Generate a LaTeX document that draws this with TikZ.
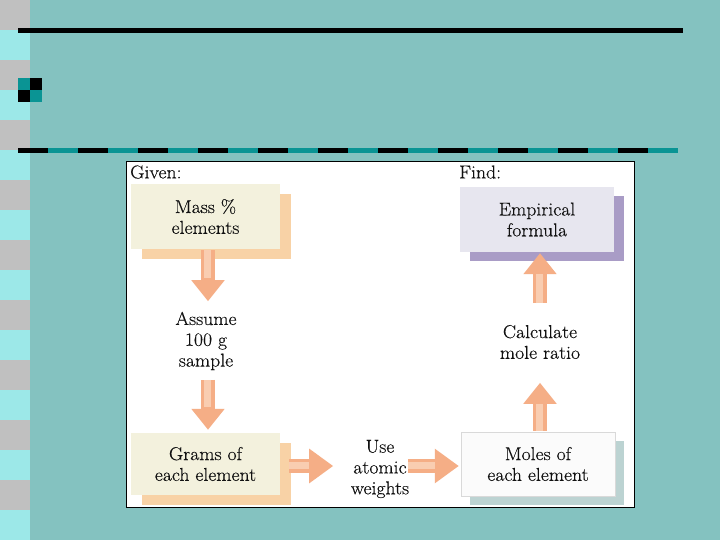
\documentclass[tikz,border=0pt]{standalone}
\usepackage{fontspec}
\setmainfont{Latin Modern Roman}[FakeStretch=1.06,FakeBold=0.35]
\usetikzlibrary{calc,shadows,arrows.meta}
\definecolor{bgteal}{HTML}{84C2C0}
\definecolor{darkteal}{HTML}{0A9494}
\definecolor{stripgray}{HTML}{C0C0C0}
\definecolor{stripcyan}{HTML}{9CE8E8}
\definecolor{cream}{HTML}{F3F1DD}
\definecolor{orangeshadow}{HTML}{F8D2A6}
\definecolor{lav}{HTML}{E7E6EF}
\definecolor{purp}{HTML}{A99CC6}
\definecolor{moleface}{HTML}{FBFBFB}
\definecolor{moleshadow}{HTML}{BCD3D2}
\definecolor{arrowc}{HTML}{F5AE86}
\definecolor{arrowlight}{HTML}{F9CDB1}
\definecolor{txt}{HTML}{111111}
\begin{document}
\begin{tikzpicture}[x=1pt,y=-1pt,
  lbl/.style={inner sep=0pt, align=center, text=txt, font=\fontsize{18.6}{20.8}\selectfont},
  box/.style={lbl, rectangle, minimum width=149pt, minimum height=65pt},
  blockv/.style={arrowc, line width=14pt, -{Triangle[width=32pt,length=21pt]}},
  blockh/.style={arrowc, line width=14pt, -{Triangle[width=33pt,length=24pt]}},
  hl/.style={arrowlight, line width=7pt}
]
\useasboundingbox (0,0) rectangle (720,540);
\fill[bgteal] (0,0) rectangle (720,540);
% left strip
\foreach \i in {0,...,8} {
  \fill[stripgray] (0,60*\i) rectangle (30,60*\i+30);
  \fill[stripcyan] (0,60*\i+30) rectangle (30,60*\i+60);
}
% top line
\fill[black] (18,28.5) rectangle (683,33);
% bullet
\fill[darkteal] (18,78) rectangle (30,90);
\fill[black] (30,78) rectangle (42,90);
\fill[black] (18,90) rectangle (30,102);
\fill[darkteal] (30,90) rectangle (42,102);
% dashed line
\foreach \k in {0,...,10} {
  \fill[black] (18+60*\k,148) rectangle (48+60*\k,153);
  \fill[darkteal] (48+60*\k,148) rectangle (78+60*\k,153);
}
% panel
\draw[fill=white, line width=0.8pt] (126,161) rectangle (634,507);
\node[lbl, anchor=west] (given) at (130,172) {Given:};
\node[lbl, anchor=west] (find) at (459,172) {Find:};
% boxes
\node[box, fill=cream, general shadow={fill=orangeshadow, shadow xshift=11pt, shadow yshift=-10pt}] (mass) at (205.5,216.5) {Mass \%\\elements};
\node[box, minimum width=154pt, fill=lav, general shadow={fill=purp, shadow xshift=10pt, shadow yshift=-9pt}] (emp) at (537,219.5) {Empirical\\formula};
\node[box, minimum height=62pt, fill=cream, general shadow={fill=orangeshadow, shadow xshift=11pt, shadow yshift=-10pt}] (grams) at (205.5,464) {Grams of\\each element};
\node[box, minimum width=154pt, minimum height=64pt, fill=moleface, draw=black!15, general shadow={fill=moleshadow, shadow xshift=9pt, shadow yshift=-9pt}] (moles) at (538,464) {Moles of\\each element};
% middle labels
\node[lbl] (assume) at (206,341) {Assume\\100 g\\sample};
\node[lbl] (calc) at (540,342) {Calculate\\mole ratio};
\node[lbl] (use) at (380,469) {Use\\atomic\\weights};
% arrows
\draw[blockv] ($(mass.south)+(2.5,1)$) -- ($(mass.south)+(2.5,52)$);
\draw[hl] ($(mass.south)+(1.5,1)$) -- ($(mass.south)+(1.5,29)$);
\draw[blockv] ($(grams.north)+(2.5,-53)$) -- ($(grams.north)+(2.5,-3)$);
\draw[hl] ($(grams.north)+(1.5,-53)$) -- ($(grams.north)+(1.5,-26)$);
\draw[blockh] ($(grams.east)+(9,2)$) -- ($(grams.east)+(53,2)$);
\draw[hl] ($(grams.east)+(9,1)$) -- ($(grams.east)+(29,1)$);
\draw[blockh] ($(moles.west)+(-53,2)$) -- ($(moles.west)+(-2,2)$);
\draw[hl] ($(moles.west)+(-53,1)$) -- ($(moles.west)+(-26,1)$);
\draw[blockv] ($(emp.south)+(3,51)$) -- ($(emp.south)+(3,1)$);
\draw[hl] ($(emp.south)+(2,51)$) -- ($(emp.south)+(2,22)$);
\draw[blockv] ($(moles.north)+(2,-1)$) -- ($(moles.north)+(2,-49)$);
\draw[hl] ($(moles.north)+(1,-1)$) -- ($(moles.north)+(1,-28)$);
\end{tikzpicture}
\end{document}
